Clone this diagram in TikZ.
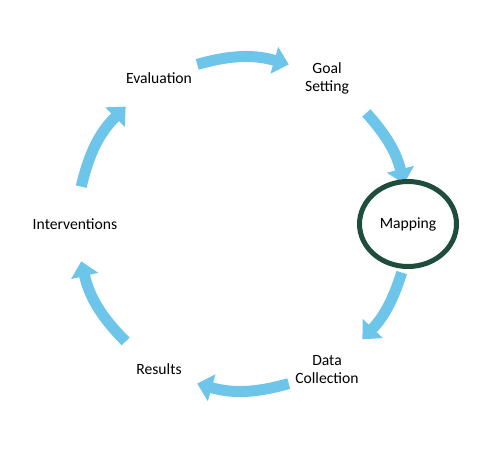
\documentclass[tikz,border=0pt]{standalone}
\usepackage{fontspec}
\setmainfont{Carlito}
\usetikzlibrary{arrows.meta,shapes.geometric}
\definecolor{cycleblue}{HTML}{6EC5EA}
\definecolor{mapgreen}{HTML}{1E4D3C}

\begin{document}
\begin{tikzpicture}[font=\fontsize{8.9}{10.2}\selectfont,
	stage/.style={align=center},
	flow/.style={cycleblue,line width=0.22cm,-{Triangle[length=0.3cm,width=0.54cm]}}]
	\useasboundingbox (0,0) rectangle (10,9);
	\coordinate (c) at (4.86,4.52);
	% arrows first, the ellipse lies on top of them
	\foreach \s/\e [count=\i] in {106/74,42/14,-17/-44,-74/-106,-135/-167,167/135} {
		\coordinate (t\i) at ([shift={(\s:3.32)}]c);
		\coordinate (h\i) at ([shift={(\e:3.32)}]c);
	}
	\path[flow] (t1) edge[bend left=16] (h1)
		(t2) edge[bend left=14] (h2)
		(t3) edge[bend left=13] (h3)
		(t4) edge[bend left=16] (h4)
		(t5) edge[bend left=16] (h5)
		(t6) edge[bend left=16] (h6);

	\node[stage] at ([shift={(60:3.36)}]c)   (goal) {Goal\\Setting};
	\node[ellipse,draw=mapgreen,line width=0.1cm,minimum width=1.94cm,minimum height=1.7cm]
		at ([shift={(0:3.3)}]c) (map) {Mapping};
	\node[stage] at ([shift={(-60:3.36)}]c)  (data) {Data\\Collection};
	\node[stage] at ([shift={(-120:3.36)}]c) (res) {Results};
	\node[stage] at ([shift={(180:3.36)}]c)  (int) {Interventions};
	\node[stage] at ([shift={(120:3.36)}]c)  (eval) {Evaluation};
\end{tikzpicture}
\end{document}
